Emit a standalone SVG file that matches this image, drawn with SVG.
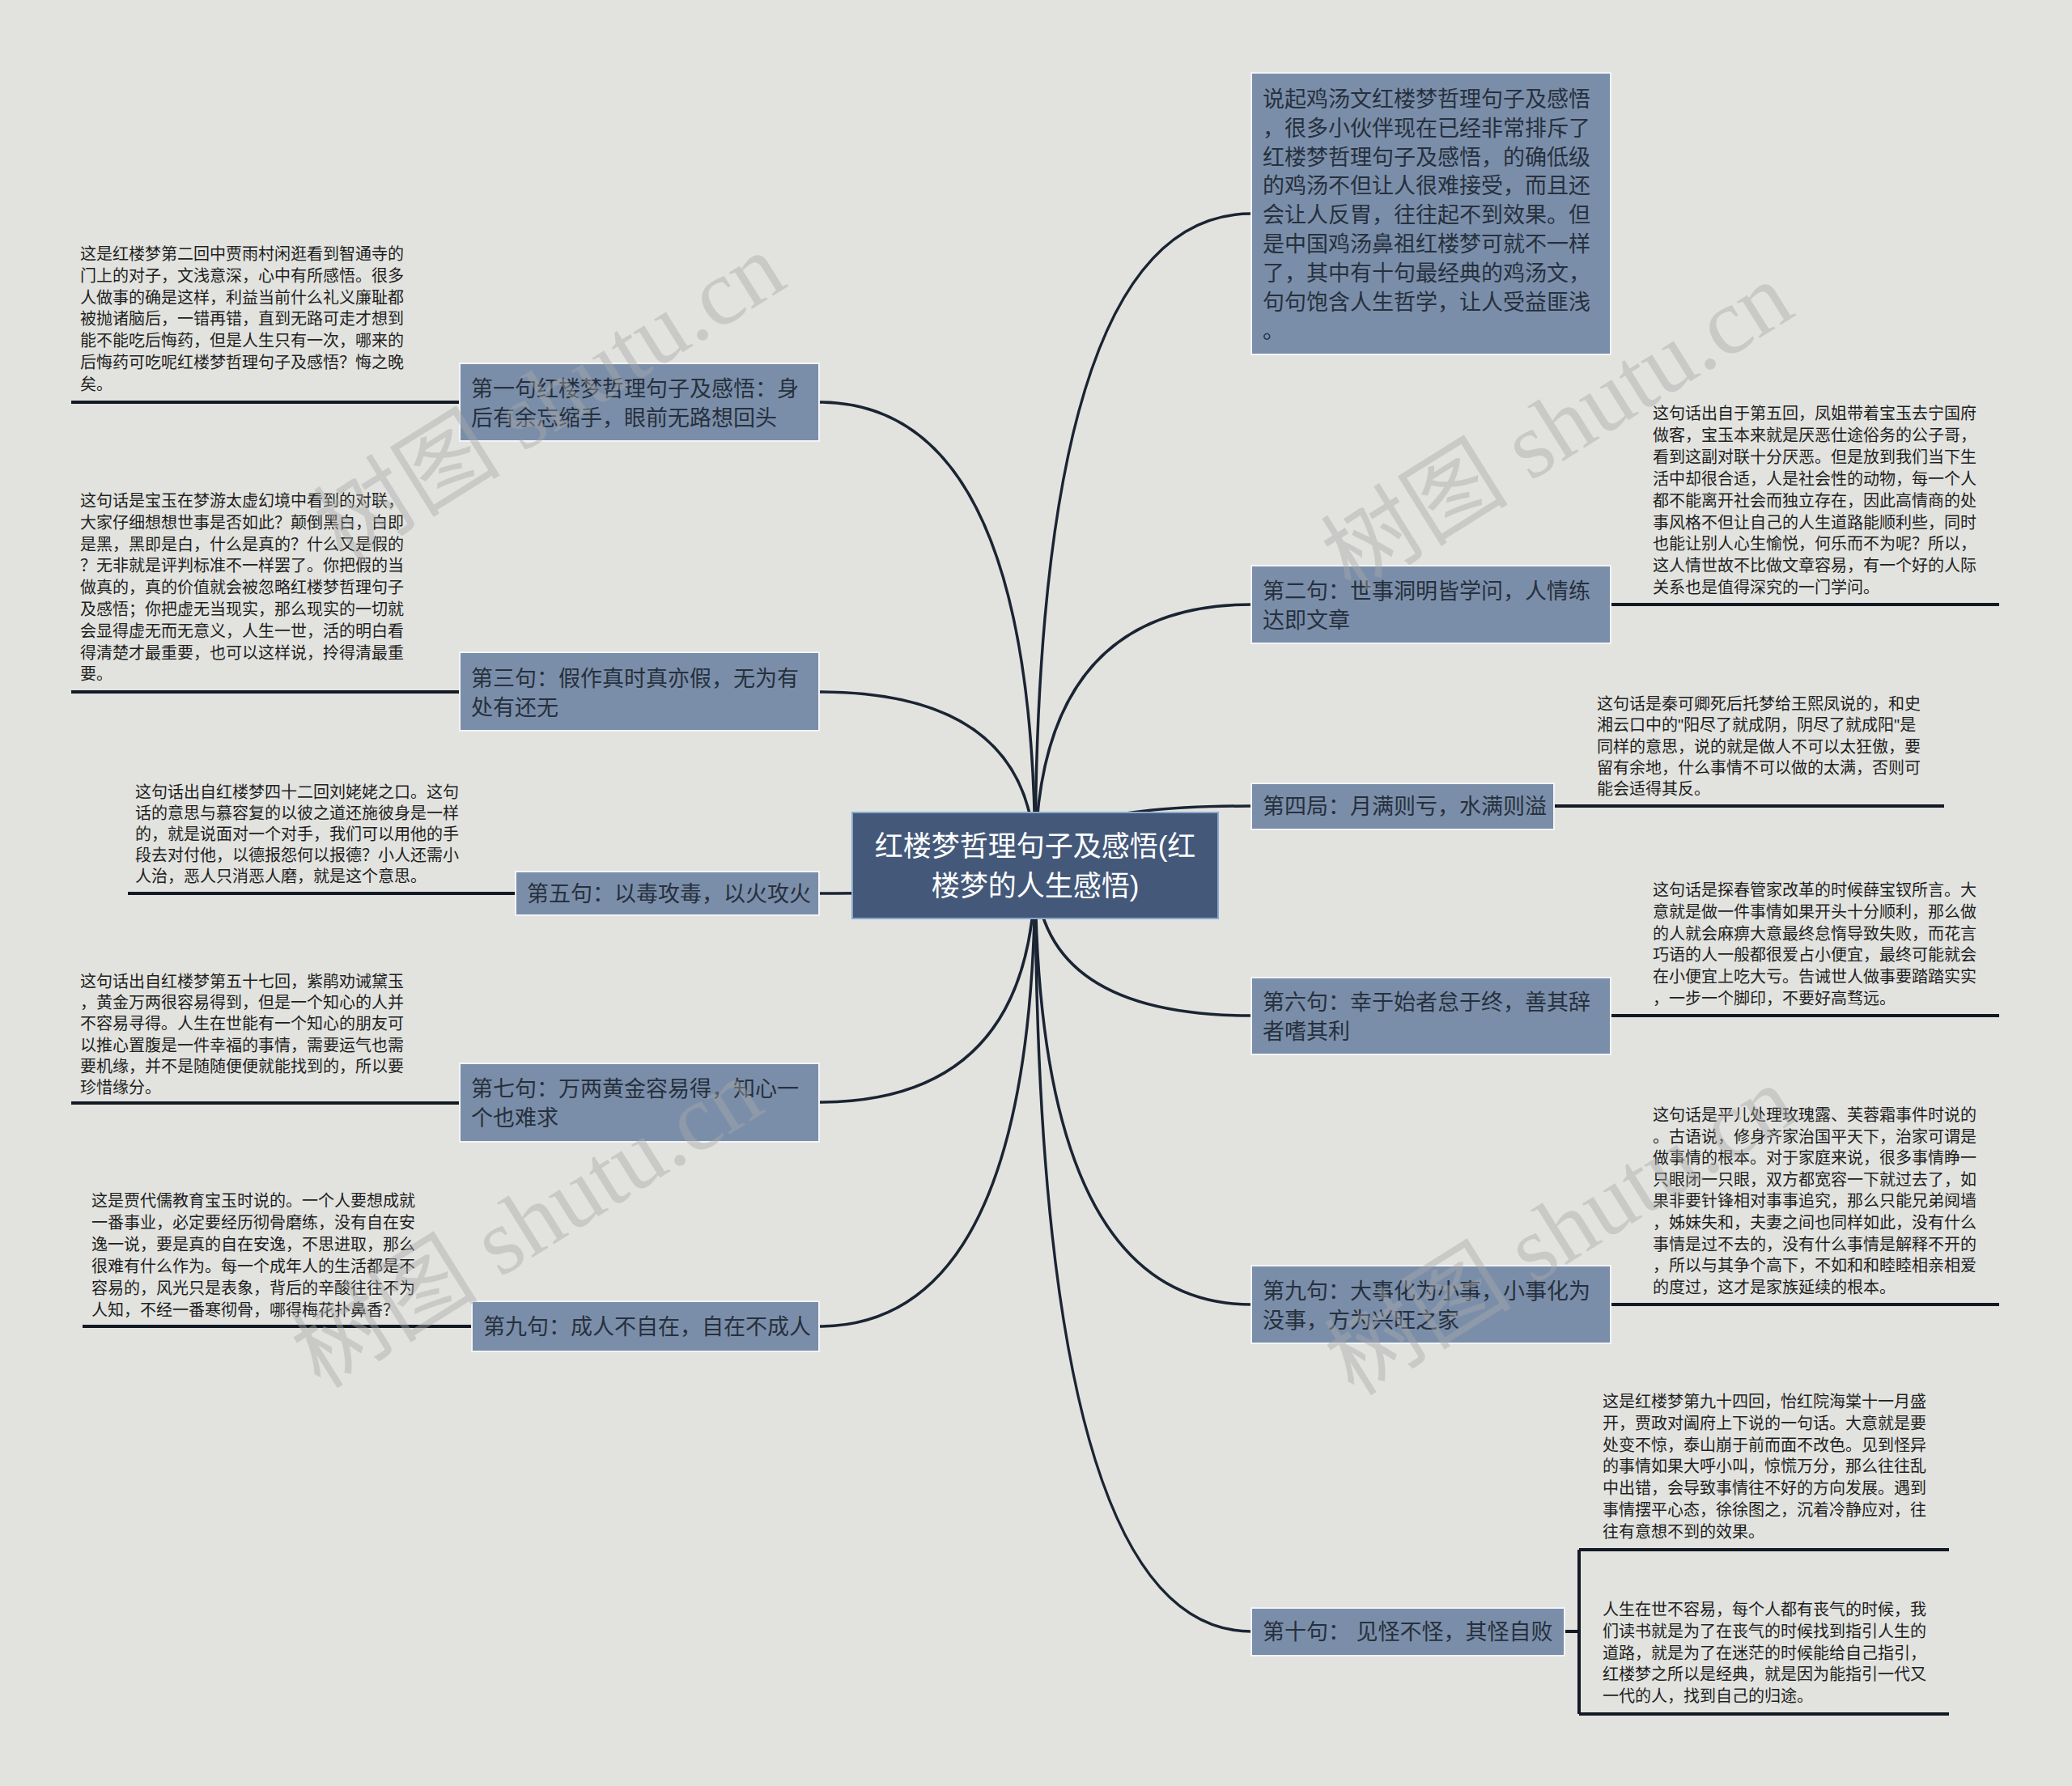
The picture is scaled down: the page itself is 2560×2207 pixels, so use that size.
<svg xmlns="http://www.w3.org/2000/svg" width="2560" height="2207" viewBox="0 0 2560 2207">
<style>
.bg{fill:#e2e3df}
.wm{font-family:"Liberation Serif","Noto Sans CJK SC",serif;font-size:116px;fill:#a9a9a9;opacity:0.42}
.conn{fill:none;stroke:#1b2433;stroke-width:3.5}
.ul{fill:none;stroke:#141a24;stroke-width:4}
.box{fill:#7b8ea9;stroke:#f2f4f7;stroke-width:2}
.root{fill:#44597a;stroke:#8ba7cf;stroke-width:2}
.bt{font-family:"Liberation Sans","Noto Sans CJK SC",sans-serif;font-size:27px;fill:#26303d}
.rt{font-family:"Liberation Sans","Noto Sans CJK SC",sans-serif;font-size:35px;fill:#ffffff;text-anchor:middle}
.dt{font-family:"Liberation Sans","Noto Sans CJK SC",sans-serif;font-size:20px;fill:#1e1e1e}
</style>
<rect class="bg" x="0" y="0" width="2560" height="2207"/>

<g id="connectors">
<path class="conn" d="M1279,1069 Q1279,264 1546,264"/>
<path class="conn" d="M1279,1069 Q1279,497 1012,497"/>
<path class="conn" d="M1279,1069 Q1279,747 1546,747"/>
<path class="conn" d="M1279,1069 Q1279,855 1012,855"/>
<path class="conn" d="M1279,1069 Q1279,996 1546,996"/>
<path class="conn" d="M1279,1069 Q1279,1104 1012,1104"/>
<path class="conn" d="M1279,1069 Q1279,1255 1546,1255"/>
<path class="conn" d="M1279,1069 Q1279,1362 1012,1362"/>
<path class="conn" d="M1279,1069 Q1279,1612 1546,1612"/>
<path class="conn" d="M1279,1069 Q1279,1639 1012,1639"/>
<path class="conn" d="M1279,1069 Q1279,2016 1546,2016"/>
<path class="ul" d="M88,497 H568"/>
<path class="ul" d="M88,855 H568"/>
<path class="ul" d="M158,1104 H637"/>
<path class="ul" d="M88,1363 H568"/>
<path class="ul" d="M102,1639 H583"/>
<path class="ul" d="M1990,747 H2470"/>
<path class="ul" d="M1920,996 H2402"/>
<path class="ul" d="M1990,1255 H2470"/>
<path class="ul" d="M1990,1612 H2470"/>
<path class="ul" d="M1933,2016 H1951 M1951,1915 V2118 M1951,1915 H2408 M1951,2118 H2408"/>
</g>

<g id="root">
<rect class="root" x="1053" y="1004" width="452" height="131"/>
<text class="rt" x="1279" y="1058">红楼梦哲理句子及感悟(红</text>
<text class="rt" x="1279" y="1107">楼梦的人生感悟)</text>
</g>

<g id="intro">
<rect class="box" x="1546" y="90" width="444" height="348"/>
<text class="bt" x="1560" y="132"><tspan x="1560">说起鸡汤文红楼梦哲理句子及感悟</tspan><tspan x="1560" dy="35.8">，很多小伙伴现在已经非常排斥了</tspan><tspan x="1560" dy="35.8">红楼梦哲理句子及感悟，的确低级</tspan><tspan x="1560" dy="35.8">的鸡汤不但让人很难接受，而且还</tspan><tspan x="1560" dy="35.8">会让人反胃，往往起不到效果。但</tspan><tspan x="1560" dy="35.8">是中国鸡汤鼻祖红楼梦可就不一样</tspan><tspan x="1560" dy="35.8">了，其中有十句最经典的鸡汤文，</tspan><tspan x="1560" dy="35.8">句句饱含人生哲学，让人受益匪浅</tspan><tspan x="1560" dy="35.8">。</tspan></text>
</g>

<g id="n1">
<rect class="box" x="568" y="449" width="444" height="96"/>
<text class="bt" x="582" y="490"><tspan x="582">第一句红楼梦哲理句子及感悟：身</tspan><tspan x="582" dy="36">后有余忘缩手，眼前无路想回头</tspan></text>
</g>
<g id="d1">
<text class="dt" x="99" y="321"><tspan x="99">这是红楼梦第二回中贾雨村闲逛看到智通寺的</tspan><tspan x="99" dy="26.8">门上的对子，文浅意深，心中有所感悟。很多</tspan><tspan x="99" dy="26.8">人做事的确是这样，利益当前什么礼义廉耻都</tspan><tspan x="99" dy="26.8">被抛诸脑后，一错再错，直到无路可走才想到</tspan><tspan x="99" dy="26.8">能不能吃后悔药，但是人生只有一次，哪来的</tspan><tspan x="99" dy="26.8">后悔药可吃呢红楼梦哲理句子及感悟？悔之晚</tspan><tspan x="99" dy="26.8">矣。</tspan></text>
</g>

<g id="n3">
<rect class="box" x="568" y="806" width="444" height="97"/>
<text class="bt" x="582" y="848"><tspan x="582">第三句：假作真时真亦假，无为有</tspan><tspan x="582" dy="36">处有还无</tspan></text>
</g>
<g id="d3">
<text class="dt" x="99" y="626"><tspan x="99">这句话是宝玉在梦游太虚幻境中看到的对联，</tspan><tspan x="99" dy="26.8">大家仔细想想世事是否如此？颠倒黑白，白即</tspan><tspan x="99" dy="26.8">是黑，黑即是白，什么是真的？什么又是假的</tspan><tspan x="99" dy="26.8">？无非就是评判标准不一样罢了。你把假的当</tspan><tspan x="99" dy="26.8">做真的，真的价值就会被忽略红楼梦哲理句子</tspan><tspan x="99" dy="26.8">及感悟；你把虚无当现实，那么现实的一切就</tspan><tspan x="99" dy="26.8">会显得虚无而无意义，人生一世，活的明白看</tspan><tspan x="99" dy="26.8">得清楚才最重要，也可以这样说，拎得清最重</tspan><tspan x="99" dy="26.8">要。</tspan></text>
</g>

<g id="n5">
<rect class="box" x="637" y="1077" width="375" height="54"/>
<text class="bt" x="651" y="1114">第五句：以毒攻毒，以火攻火</text>
</g>
<g id="d5">
<text class="dt" x="167" y="986"><tspan x="167">这句话出自红楼梦四十二回刘姥姥之口。这句</tspan><tspan x="167" dy="26">话的意思与慕容复的以彼之道还施彼身是一样</tspan><tspan x="167" dy="26">的，就是说面对一个对手，我们可以用他的手</tspan><tspan x="167" dy="26">段去对付他，以德报怨何以报德？小人还需小</tspan><tspan x="167" dy="26">人治，恶人只消恶人磨，就是这个意思。</tspan></text>
</g>

<g id="n7">
<rect class="box" x="568" y="1314" width="444" height="97"/>
<text class="bt" x="582" y="1355"><tspan x="582">第七句：万两黄金容易得，知心一</tspan><tspan x="582" dy="36">个也难求</tspan></text>
</g>
<g id="d7">
<text class="dt" x="99" y="1220"><tspan x="99">这句话出自红楼梦第五十七回，紫鹃劝诫黛玉</tspan><tspan x="99" dy="26.2">，黄金万两很容易得到，但是一个知心的人并</tspan><tspan x="99" dy="26.2">不容易寻得。人生在世能有一个知心的朋友可</tspan><tspan x="99" dy="26.2">以推心置腹是一件幸福的事情，需要运气也需</tspan><tspan x="99" dy="26.2">要机缘，并不是随随便便就能找到的，所以要</tspan><tspan x="99" dy="26.2">珍惜缘分。</tspan></text>
</g>

<g id="n9l">
<rect class="box" x="583" y="1608" width="429" height="62"/>
<text class="bt" x="597" y="1649">第九句：成人不自在，自在不成人</text>
</g>
<g id="d9l">
<text class="dt" x="113" y="1491"><tspan x="113">这是贾代儒教育宝玉时说的。一个人要想成就</tspan><tspan x="113" dy="27">一番事业，必定要经历彻骨磨练，没有自在安</tspan><tspan x="113" dy="27">逸一说，要是真的自在安逸，不思进取，那么</tspan><tspan x="113" dy="27">很难有什么作为。每一个成年人的生活都是不</tspan><tspan x="113" dy="27">容易的，风光只是表象，背后的辛酸往往不为</tspan><tspan x="113" dy="27">人知，不经一番寒彻骨，哪得梅花扑鼻香？</tspan></text>
</g>

<g id="n2">
<rect class="box" x="1546" y="699" width="444" height="96"/>
<text class="bt" x="1560" y="740"><tspan x="1560">第二句：世事洞明皆学问，人情练</tspan><tspan x="1560" dy="36">达即文章</tspan></text>
</g>
<g id="d2">
<text class="dt" x="2042" y="518"><tspan x="2042">这句话出自于第五回，凤姐带着宝玉去宁国府</tspan><tspan x="2042" dy="26.9">做客，宝玉本来就是厌恶仕途俗务的公子哥，</tspan><tspan x="2042" dy="26.9">看到这副对联十分厌恶。但是放到我们当下生</tspan><tspan x="2042" dy="26.9">活中却很合适，人是社会性的动物，每一个人</tspan><tspan x="2042" dy="26.9">都不能离开社会而独立存在，因此高情商的处</tspan><tspan x="2042" dy="26.9">事风格不但让自己的人生道路能顺利些，同时</tspan><tspan x="2042" dy="26.9">也能让别人心生愉悦，何乐而不为呢？所以，</tspan><tspan x="2042" dy="26.9">这人情世故不比做文章容易，有一个好的人际</tspan><tspan x="2042" dy="26.9">关系也是值得深究的一门学问。</tspan></text>
</g>

<g id="n4">
<rect class="box" x="1546" y="968" width="374" height="57"/>
<text class="bt" x="1560" y="1006">第四局：月满则亏，水满则溢</text>
</g>
<g id="d4">
<text class="dt" x="1973" y="877"><tspan x="1973">这句话是秦可卿死后托梦给王熙凤说的，和史</tspan><tspan x="1973" dy="26.3">湘云口中的"阳尽了就成阴，阴尽了就成阳"是</tspan><tspan x="1973" dy="26.3">同样的意思，说的就是做人不可以太狂傲，要</tspan><tspan x="1973" dy="26.3">留有余地，什么事情不可以做的太满，否则可</tspan><tspan x="1973" dy="26.3">能会适得其反。</tspan></text>
</g>

<g id="n6">
<rect class="box" x="1546" y="1208" width="444" height="95"/>
<text class="bt" x="1560" y="1248"><tspan x="1560">第六句：幸于始者怠于终，善其辞</tspan><tspan x="1560" dy="36">者嗜其利</tspan></text>
</g>
<g id="d6">
<text class="dt" x="2042" y="1107"><tspan x="2042">这句话是探春管家改革的时候薛宝钗所言。大</tspan><tspan x="2042" dy="26.8">意就是做一件事情如果开头十分顺利，那么做</tspan><tspan x="2042" dy="26.8">的人就会麻痹大意最终怠惰导致失败，而花言</tspan><tspan x="2042" dy="26.8">巧语的人一般都很爱占小便宜，最终可能就会</tspan><tspan x="2042" dy="26.8">在小便宜上吃大亏。告诫世人做事要踏踏实实</tspan><tspan x="2042" dy="26.8">，一步一个脚印，不要好高骛远。</tspan></text>
</g>

<g id="n9r">
<rect class="box" x="1546" y="1564" width="444" height="96"/>
<text class="bt" x="1560" y="1605"><tspan x="1560">第九句：大事化为小事，小事化为</tspan><tspan x="1560" dy="36">没事，方为兴旺之家</tspan></text>
</g>
<g id="d9r">
<text class="dt" x="2042" y="1385"><tspan x="2042">这句话是平儿处理玫瑰露、芙蓉霜事件时说的</tspan><tspan x="2042" dy="26.6">。古语说，修身齐家治国平天下，治家可谓是</tspan><tspan x="2042" dy="26.6">做事情的根本。对于家庭来说，很多事情睁一</tspan><tspan x="2042" dy="26.6">只眼闭一只眼，双方都宽容一下就过去了，如</tspan><tspan x="2042" dy="26.6">果非要针锋相对事事追究，那么只能兄弟阋墙</tspan><tspan x="2042" dy="26.6">，姊妹失和，夫妻之间也同样如此，没有什么</tspan><tspan x="2042" dy="26.6">事情是过不去的，没有什么事情是解释不开的</tspan><tspan x="2042" dy="26.6">，所以与其争个高下，不如和和睦睦相亲相爱</tspan><tspan x="2042" dy="26.6">的度过，这才是家族延续的根本。</tspan></text>
</g>

<g id="n10">
<rect class="box" x="1546" y="1987" width="387" height="59"/>
<text class="bt" x="1560" y="2026">第十句： 见怪不怪，其怪自败</text>
</g>
<g id="d10a">
<text class="dt" x="1980" y="1739"><tspan x="1980">这是红楼梦第九十四回，怡红院海棠十一月盛</tspan><tspan x="1980" dy="26.8">开，贾政对阖府上下说的一句话。大意就是要</tspan><tspan x="1980" dy="26.8">处变不惊，泰山崩于前而面不改色。见到怪异</tspan><tspan x="1980" dy="26.8">的事情如果大呼小叫，惊慌万分，那么往往乱</tspan><tspan x="1980" dy="26.8">中出错，会导致事情往不好的方向发展。遇到</tspan><tspan x="1980" dy="26.8">事情摆平心态，徐徐图之，沉着冷静应对，往</tspan><tspan x="1980" dy="26.8">往有意想不到的效果。</tspan></text>
</g>
<g id="d10b">
<text class="dt" x="1980" y="1996"><tspan x="1980">人生在世不容易，每个人都有丧气的时候，我</tspan><tspan x="1980" dy="26.8">们读书就是为了在丧气的时候找到指引人生的</tspan><tspan x="1980" dy="26.8">道路，就是为了在迷茫的时候能给自己指引，</tspan><tspan x="1980" dy="26.8">红楼梦之所以是经典，就是因为能指引一代又</tspan><tspan x="1980" dy="26.8">一代的人，找到自己的归途。</tspan></text>
</g>

<g id="watermarks">
<text class="wm" x="0" y="0" text-anchor="middle" transform="translate(700,525) rotate(-32)">树图 shutu.cn</text>
<text class="wm" x="0" y="0" text-anchor="middle" transform="translate(1945,561) rotate(-32)">树图 shutu.cn</text>
<text class="wm" x="0" y="0" text-anchor="middle" transform="translate(672,1545) rotate(-32)">树图 shutu.cn</text>
<text class="wm" x="0" y="0" text-anchor="middle" transform="translate(1949,1554) rotate(-32)">树图 shutu.cn</text>
</g>
</svg>
